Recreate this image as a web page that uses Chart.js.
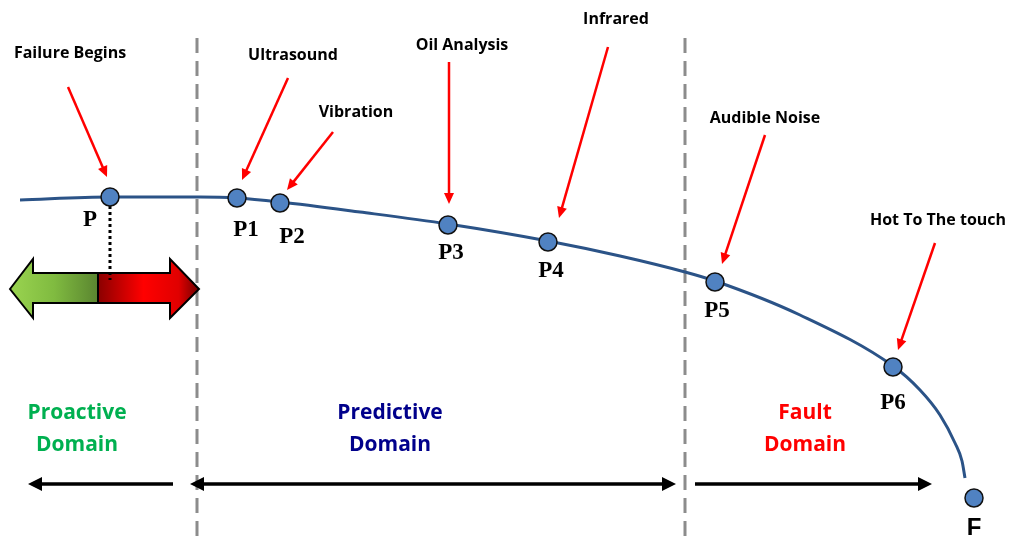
<!DOCTYPE html>
<html>
<head>
<meta charset="utf-8">
<script src="https://cdn.jsdelivr.net/npm/chart.js@4"></script>
<style>
html,body{margin:0;padding:0;background:#fff;overflow:hidden}
#c{display:block}
</style>
</head>
<body>
<canvas id="c" width="1014" height="540"></canvas>
<script>
// P-F curve, coordinates in a 1014 x 540 frame (y grows downwards)
const curveX=[20,110,200,237,280,360,448,548,620,685,715,800,893,920,940,955,962,965];
const curveY=[200,197,197,198,202,212,224,241,256,272,281,315,366,390,415,443,461,478];

const pointNames=['P','P1','P2','P3','P4','P5','P6','F'];
const pointX=[110,237,280,448,548,715,893,974];
const pointY=[197,198,203,225,242,282,367,498];

const techNames=['Failure Begins','Ultrasound','Vibration','Oil Analysis','Infrared','Audible Noise','Hot To The touch'];
const domainNames=[['Proactive','Domain'],['Predictive','Domain'],['Fault','Domain']];
const domainColors=['#00b050','#00008b','#ff0000'];
const boundaryX=[197,685];

function arrow(ctx,x1,y1,x2,y2,color,w,head,hw){
  const a=Math.atan2(y2-y1,x2-x1);
  ctx.strokeStyle=color;ctx.fillStyle=color;ctx.lineWidth=w;
  ctx.beginPath();ctx.moveTo(x1,y1);ctx.lineTo(x2-Math.cos(a)*head*0.8,y2-Math.sin(a)*head*0.8);ctx.stroke();
  ctx.beginPath();ctx.moveTo(x2,y2);
  ctx.lineTo(x2-Math.cos(a)*head+Math.sin(a)*hw,y2-Math.sin(a)*head-Math.cos(a)*hw);
  ctx.lineTo(x2-Math.cos(a)*head-Math.sin(a)*hw,y2-Math.sin(a)*head+Math.cos(a)*hw);
  ctx.closePath();ctx.fill();
}

const deco={
  id:'deco',
  beforeDatasetsDraw(chart){
    const ctx=chart.ctx,xs=chart.scales.x,ys=chart.scales.y;
    const X=v=>xs.getPixelForValue(v),Y=v=>ys.getPixelForValue(v);
    ctx.save();
    // domain boundaries
    ctx.strokeStyle='#8c8c8c';ctx.lineWidth=3;ctx.setLineDash([15,8]);
    boundaryX.forEach(b=>{ctx.beginPath();ctx.moveTo(X(b),Y(38));ctx.lineTo(X(b),Y(540));ctx.stroke();});
    ctx.setLineDash([]);
    // big double arrow at P
    const cy=Y(289),l=X(10),r=X(199),m=X(98),bt=Y(273),bb=Y(303),ht=Y(259),hb=Y(318),lh=X(33),rh=X(170);
    const shape=()=>{ctx.beginPath();ctx.moveTo(l,cy);ctx.lineTo(lh,ht);ctx.lineTo(lh,bt);ctx.lineTo(rh,bt);ctx.lineTo(rh,ht);
      ctx.lineTo(r,cy);ctx.lineTo(rh,hb);ctx.lineTo(rh,bb);ctx.lineTo(lh,bb);ctx.lineTo(lh,hb);ctx.closePath();};
    ctx.save();shape();ctx.clip();
    let g=ctx.createLinearGradient(l,0,m,0);g.addColorStop(0,'#9ad450');g.addColorStop(0.5,'#80bb40');g.addColorStop(1,'#5a8530');
    ctx.fillStyle=g;ctx.fillRect(l,ht,m-l,hb-ht);
    g=ctx.createLinearGradient(m,0,r,0);g.addColorStop(0,'#8a0000');g.addColorStop(0.45,'#ff0000');g.addColorStop(0.8,'#e00000');g.addColorStop(1,'#700000');
    ctx.fillStyle=g;ctx.fillRect(m,ht,r-m,hb-ht);
    ctx.strokeStyle='#000';ctx.lineWidth=2;ctx.beginPath();ctx.moveTo(m,bt);ctx.lineTo(m,bb);ctx.stroke();
    ctx.restore();
    shape();ctx.strokeStyle='#000';ctx.lineWidth=2;ctx.stroke();
    // dotted drop line from P
    ctx.setLineDash([3,3]);ctx.lineWidth=3;ctx.beginPath();ctx.moveTo(X(110),Y(206));ctx.lineTo(X(110),Y(280));ctx.stroke();ctx.setLineDash([]);
    // red pointer arrows
    const from=[[68,87],[288,78],[333,132],[449,62],[608,47],[765,135],[935,243]];
    const to=[[107,177],[242,180],[287,190],[449,204],[559,218],[722,264],[898,350]];
    from.forEach((f,i)=>arrow(ctx,X(f[0]),Y(f[1]),X(to[i][0]),Y(to[i][1]),'#ff0000',2.5,11,5));
    // technique labels
    const labelPos=[[70,53],[293,55],[356,112],[462,45],[616,19],[765,118],[938,220]];
    ctx.fillStyle='#000';ctx.font='bold 16px "Open Sans"';ctx.textAlign='center';ctx.textBaseline='middle';
    techNames.forEach((t,i)=>ctx.fillText(t,X(labelPos[i][0]),Y(labelPos[i][1])));
    // domain labels
    const domX=[77,390,805];
    ctx.font='bold 21px "Open Sans"';
    domainNames.forEach((d,i)=>{ctx.fillStyle=domainColors[i];ctx.fillText(d[0],X(domX[i]),Y(413));ctx.fillText(d[1],X(domX[i]),Y(445));});
    // black domain arrows
    arrow(ctx,X(173),Y(484),X(28),Y(484),'#000',3.5,14,7);
    arrow(ctx,X(433),Y(484),X(676),Y(484),'#000',3.5,14,7);
    arrow(ctx,X(433),Y(484),X(190),Y(484),'#000',3.5,14,7);
    arrow(ctx,X(695),Y(484),X(932),Y(484),'#000',3.5,14,7);
    ctx.restore();
  },
  afterDatasetsDraw(chart){
    const ctx=chart.ctx,xs=chart.scales.x,ys=chart.scales.y;
    const off=[[-20,23],[9,32],[12,34],[3,28],[3,29],[2,29],[0,36],[0,30]];
    ctx.save();ctx.fillStyle='#000';ctx.textAlign='center';ctx.textBaseline='middle';
    pointNames.forEach((n,i)=>{
      ctx.font=n==='F'?'bold 24px "Liberation Sans"':'bold 23px "Liberation Serif"';
      ctx.fillText(n,xs.getPixelForValue(pointX[i]+off[i][0]),ys.getPixelForValue(pointY[i]+off[i][1]));
    });
    ctx.restore();
  }
};

new Chart(document.getElementById('c'),{
  type:'scatter',
  data:{datasets:[
    {data:curveX.map((x,i)=>({x,y:curveY[i]})),showLine:true,borderColor:'#2b5387',borderWidth:3,pointRadius:0,cubicInterpolationMode:'monotone',clip:false,order:2},
    {data:pointX.map((x,i)=>({x,y:pointY[i]})),pointRadius:9,pointBackgroundColor:'#5082c2',pointBorderColor:'#111',pointBorderWidth:1.5,clip:false,order:1}
  ]},
  options:{
    responsive:false,animation:false,
    layout:{padding:0,autoPadding:false},
    plugins:{legend:{display:false},tooltip:{enabled:false}},
    scales:{
      x:{type:'linear',min:0,max:1014,display:false},
      y:{type:'linear',min:0,max:540,reverse:true,display:false}
    }
  },
  plugins:[deco]
});
</script>
</body>
</html>
